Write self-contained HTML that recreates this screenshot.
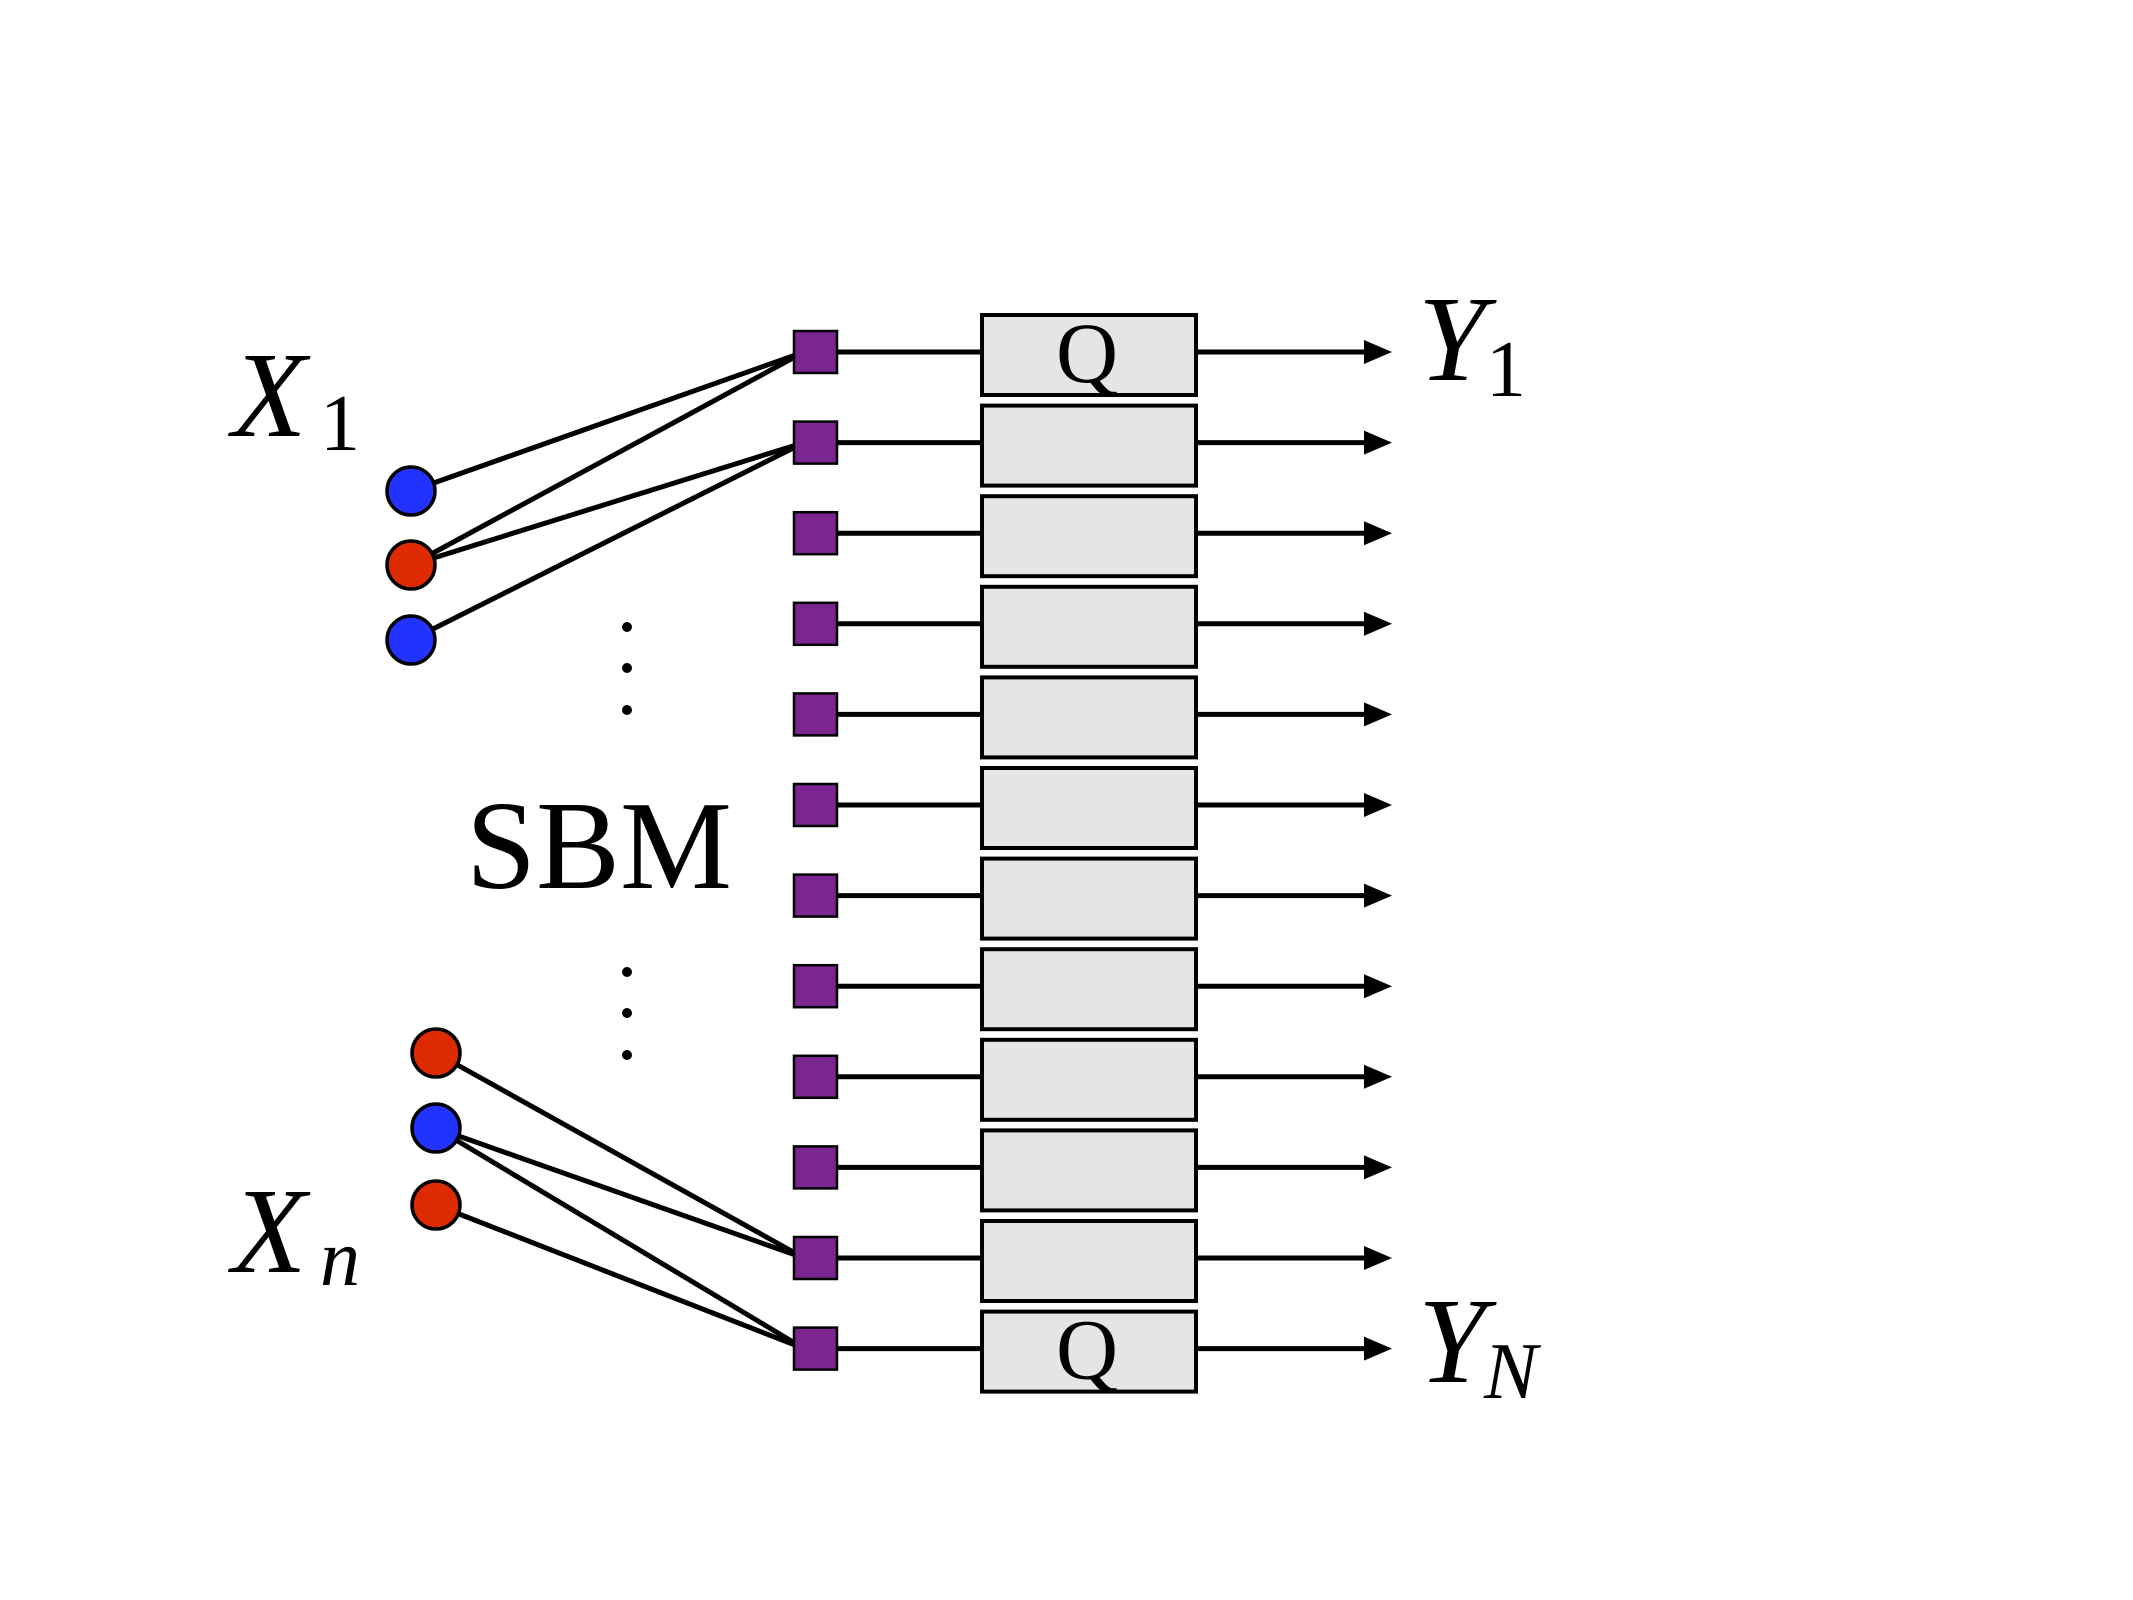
<!DOCTYPE html>
<html><head><meta charset="utf-8"><style>
html,body{margin:0;padding:0;background:#fff}
svg{display:block}
text{font-family:"Liberation Serif",serif;fill:#000}
</style></head><body>
<svg id="fig" width="2133" height="1600" viewBox="0 0 2133 1600">
<g id="edges"></g>
<g id="rows"></g>
<g id="nodes"></g>
<g><circle cx="627" cy="627" r="5"/><circle cx="627" cy="668" r="5"/><circle cx="627" cy="710" r="5"/></g>
<g><circle cx="627" cy="972" r="5"/><circle cx="627" cy="1013" r="5"/><circle cx="627" cy="1055" r="5"/></g>
<text x="466" y="888" font-size="126" textLength="266" lengthAdjust="spacingAndGlyphs">SBM</text>
<text x="232" y="436" font-size="122" font-style="italic">X</text>
<text x="320" y="450" font-size="80">1</text>
<text x="232" y="1272" font-size="122" font-style="italic">X</text>
<text x="320" y="1285" font-size="80" font-style="italic">n</text>
<text x="1418" y="380" font-size="122" font-style="italic">Y</text>
<text x="1486" y="396" font-size="80">1</text>
<text x="1418" y="1382" font-size="122" font-style="italic">Y</text>
<text x="1484" y="1398" font-size="80" font-style="italic">N</text>
</svg>
<script>
const rowCount = 12;
const qRows = [0, 11];
const nodeColors = ["blue","red","blue","red","blue","red"];
const nodeRowY = [491, 565, 640, 1053, 1128, 1205];
const nodeX = [411, 411, 411, 436, 436, 436];
const edgeFrom = [0, 1, 1, 2, 3, 4, 4, 5];
const edgeTo = [0, 0, 1, 1, 10, 10, 11, 11];

const NS = "http://www.w3.org/2000/svg";
function mk(tag, attrs, parent){const e=document.createElementNS(NS,tag);for(const k in attrs)e.setAttribute(k,attrs[k]);parent.appendChild(e);return e;}
const rowY = i => 352 + i * 90.6;
const colorMap = {blue:"#2233ff", red:"#dd2a00"};
const rows = document.getElementById('rows');
const edges = document.getElementById('edges');
const nodes = document.getElementById('nodes');

for (let i = 0; i < rowCount; i++) {
  const y = rowY(i);
  const g = mk('g', {}, rows);
  
  
  const l = mk('line', {x1:830, y1:y, x2:982, y2:y, stroke:'#000', 'stroke-width':5}, g);
  
  
  const b = mk('rect', {x:982, y:y-37, width:214, height:80, fill:'#e5e5e5', stroke:'#000', 'stroke-width':4}, g);
  
  
  if (qRows.includes(i)) {
    const t = mk('text', {x:1087, y:y+30, 'font-size':86, 'text-anchor':'middle'}, g);
    t.textContent = 'Q';
    
    
  }
  const a = mk('line', {x1:1196, y1:y, x2:1368, y2:y, stroke:'#000', 'stroke-width':5}, g);
  
  
  const h = mk('polygon', {points:`1364,${y-12} 1392,${y} 1364,${y+12}`, fill:'#000'}, g);
  
  
  const s = mk('rect', {x:794, y:y-21, width:43, height:42, fill:'#7b2590', stroke:'#000', 'stroke-width':2.5}, g);
  
  
}
for (let k = 0; k < edgeFrom.length; k++) {
  const n = edgeFrom[k], r = edgeTo[k];
  const e = mk('line', {x1:nodeX[n], y1:nodeRowY[n], x2:804, y2:rowY(r), stroke:'#000', 'stroke-width':5}, edges);
  
  
}
for (let n = 0; n < nodeRowY.length; n++) {
  const c = mk('circle', {cx:nodeX[n], cy:nodeRowY[n], r:24, fill:colorMap[nodeColors[n]], stroke:'#000', 'stroke-width':3.5}, nodes);
  
  
}
</script>
</body></html>
